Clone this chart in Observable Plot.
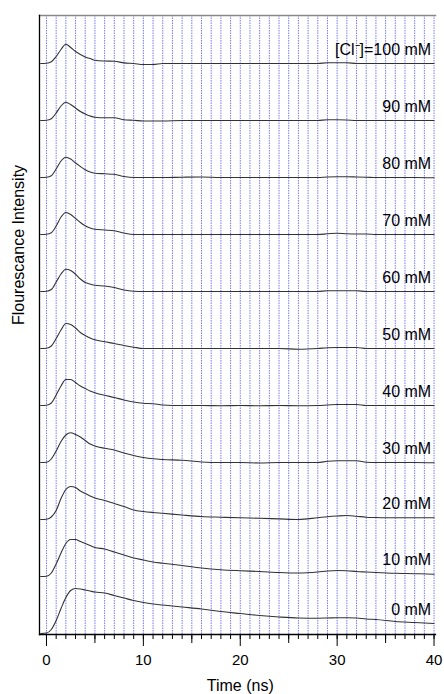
<!DOCTYPE html>
<html><head><meta charset="utf-8">
<script src="https://cdn.jsdelivr.net/npm/d3@7"></script>
<script src="https://cdn.jsdelivr.net/npm/@observablehq/plot@0.6"></script>
<style>body{margin:0;background:#fff} svg{display:block}</style>
</head><body><div id="chart"></div>
<script>
// Time axis (ns)
const times = [-0.6, 0, 0.5, 1, 1.5, 2, 2.5, 3, 3.5, 4, 4.5, 5, 6, 7, 8, 9, 10, 11, 12, 14, 16, 18, 20, 22, 24, 26, 28, 29, 30, 31, 32, 33, 34, 36, 38, 40];
// chloride concentrations (mM)
const concentrations = [0, 10, 20, 30, 40, 50, 60, 70, 80, 90, 100];
const seriesLabels = ["0 mM", "10 mM", "20 mM", "30 mM", "40 mM", "50 mM", "60 mM", "70 mM", "80 mM", "90 mM", "[Cl\u207B]=100 mM"];
const xTickLabels = [0, 10, 20, 30, 40];

// fluorescence intensity (a.u.) for each concentration
const trace0   = [0, 0.5, 4, 13, 25, 36, 43, 45, 44.5, 43.5, 42.5, 41.5, 40.5, 38, 35.5, 33, 31, 29.5, 28.5, 26.5, 24.5, 22, 20, 18, 16.5, 15.5, 15.3, 15.5, 15.8, 15.8, 15.5, 14.5, 14, 12, 11, 10];
const trace10  = [0, 0.3, 3.5, 12.5, 23.5, 33, 37, 37, 35, 33, 31, 29, 27.5, 24.5, 21.5, 18.5, 16.5, 14.5, 13.3, 11, 8.5, 6.8, 5.8, 5, 4, 3.5, 4.5, 5.5, 6, 5.8, 5, 4.5, 4, 3.2, 2.8, 2.3];
const trace20  = [0, 0.3, 2.5, 9, 21, 30, 33, 32, 28.5, 26, 23.5, 21.5, 19, 16, 13, 9.5, 8, 7, 6.2, 4.5, 3, 2.3, 1.7, 1.2, 0.6, 0, 1.8, 2.8, 3.5, 4, 3.2, 2.3, 2, 1.7, 1.7, 1.7];
const trace30  = [0, 0.3, 3.5, 11.5, 21, 27.5, 29.7, 28, 25.5, 22, 18.5, 16.5, 14.2, 12.5, 9.5, 7, 5, 3.7, 3, 2.3, 0.5, 0, 0, -0.5, 0, 0, 0, 1.2, 1.7, 1.7, 1.7, 0.3, 0, 0, 0, -0.3];
const trace40  = [0, 0.3, 2.5, 10.5, 19.5, 26, 26, 23, 19.5, 17, 14.5, 12.7, 10.2, 8, 5.5, 3.5, 2.3, 1.8, 0.5, 0, 0, -0.3, 0, -0.3, 0, -0.3, 0, 0.5, 1, 1, 1, 0, 0, 0, 0, 0];
const trace50  = [0, 0.3, 2.5, 10, 18.5, 25, 24, 20.5, 16, 13, 10.5, 8.7, 6.7, 5, 3, 1.3, 0, 0, 0, 0, 0, 0, 0, 0, 0, -0.7, 0, 0.7, 1, 1, 1, 0, 0, 0, 0, 0];
const trace60  = [0, 0.3, 2, 9.5, 17.5, 22.3, 21, 17.3, 12.5, 9, 7.5, 6.3, 5.5, 4, 1.5, 0.3, 0, 0, 0, 0, 0, 0, 0, 0, 0, 0, 0, 0.7, 0.7, 0.7, 0.7, 0, 0, 0, 0, 0];
const trace70  = [0, 0.3, 1.8, 8.5, 17.5, 22, 20, 16, 12, 8.7, 6.5, 5.3, 4.5, 3.8, 1.5, 0, 0, 0, 0, 0, 0, 0, 0, 0, 0, 0, 0, 0.7, 1.3, 0.7, 0.5, 0.5, 0, 0, 0, 0];
const trace80  = [0, 0.3, 1.8, 8.5, 16.5, 20.3, 18.5, 14.5, 11, 7.7, 5.5, 4.3, 3.7, 3.2, 1, 0, 0, 0, 0, 0.3, 0.5, 0, 0, 0, 0, 0, 0, 0.5, 0.7, 0.7, 0.5, 0.3, 0, 0, 0, -0.3];
const trace90  = [0, 0.3, 1.8, 7.5, 14.5, 18.3, 16, 12.5, 9, 6.5, 4.5, 3.2, 2.7, 2.7, 0.7, 0.2, -0.5, -0.5, -0.5, 0, 0, 0, 0, 0, 0, 0, 0, 0.7, 0.7, 0.5, 0, 0, 0, 0, 0, 0];
const trace100 = [0, 0.3, 1.8, 7, 14, 19.3, 16, 12, 9, 6.5, 5, 3.2, 2.5, 2.3, 0.6, 0, -1, -1, 0, 0, 0, 0, 0, 0, 0, 0, 0, 0.8, 0.8, 0.8, 0, 0, 0, 0, 0, 0];

const traces = [trace0, trace10, trace20, trace30, trace40, trace50, trace60, trace70, trace80, trace90, trace100];
const spacing = 57; // vertical stacking offset between traces

const rows = [];
traces.forEach((tr, i) => tr.forEach((v, j) => rows.push({t: times[j], v, c: concentrations[i], y: 1 + spacing * i + v})));
const labelRows = seriesLabels.map((label, i) => ({label, y: 1 + spacing * i + traces[i][traces[i].length - 1] + 9}));

const font = "'Liberation Sans', Arial, Helvetica, sans-serif";
const plot = Plot.plot({
  width: 444, height: 694,
  marginLeft: 39, marginRight: 9, marginTop: 15, marginBottom: 60,
  style: {fontFamily: font, fontSize: "15px", background: "#fff", color: "#000"},
  x: {domain: [-0.72, 40.15]},
  y: {domain: [0, 619], axis: null},
  marks: [
    Plot.ruleX(d3.range(0, 41), {stroke: "#6a6aff", strokeOpacity: 0.9, strokeWidth: 1, strokeDasharray: "1.5,1"}),
    Plot.line(rows, {x: "t", y: "y", z: "c", stroke: "#333", strokeWidth: 1.1, curve: "monotone-x"}),
    Plot.frame({anchor: "top", stroke: "#888", strokeWidth: 1.5}),
    Plot.frame({anchor: "left", stroke: "#000", strokeWidth: 1.3}),
    Plot.frame({anchor: "bottom", stroke: "#000", strokeWidth: 1.3}),
    Plot.axisX({ticks: d3.range(0, 41), tickSize: 5, text: null, label: null}),
    Plot.axisX({ticks: [5, 15, 25, 35], tickSize: 9, text: null, label: null}),
    Plot.axisX({ticks: xTickLabels, tickSize: 12, tickPadding: 8, label: null, fontSize: 15}),
    Plot.text(labelRows, {x: 39.7, y: "y", text: "label", textAnchor: "end", lineAnchor: "bottom", fontSize: 16, fill: "#000"}),
    Plot.text(["Time (ns)"], {x: 20, frameAnchor: "bottom", dy: 51, lineAnchor: "middle", fontSize: 16, fill: "#000"}),
    Plot.text(["Flourescance Intensity"], {frameAnchor: "left", dx: -20.5, rotate: -90, lineAnchor: "middle", fontSize: 16, fill: "#000"})
  ]
});
document.getElementById("chart").appendChild(plot);
</script>
</body></html>
